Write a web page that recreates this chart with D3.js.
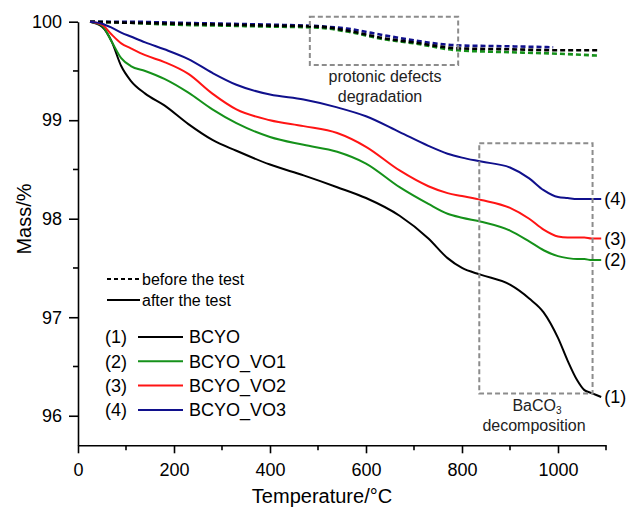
<!DOCTYPE html>
<html>
<head>
<meta charset="utf-8">
<script src="https://cdn.jsdelivr.net/npm/d3@7"></script>
<style>
  body { margin: 0; background: #fff; }
  svg { display: block; font-family: "Liberation Sans", Arial, Helvetica, sans-serif; }
  .axis path, .axis line { stroke: #000; stroke-width: 1.6; }
  .axis text { font-size: 18px; fill: #000; font-family: "Liberation Sans", Arial, Helvetica, sans-serif; }
</style>
</head>
<body>
<svg id="chart" width="628" height="510"></svg>
<script>
// temperature grid (°C) for the "after the test" curves
var temps = [25, 50, 70, 90, 110, 140, 180, 230, 280, 330, 400, 470, 540, 600, 670, 730, 770, 800, 840, 900, 940, 970, 1000, 1020, 1040, 1055, 1070, 1090]

var bcyo = [100, 99.95, 99.80, 99.55, 99.40, 99.27, 99.15, 98.96, 98.80, 98.69, 98.55, 98.44, 98.32, 98.21, 98.03, 97.80, 97.60, 97.50, 97.43, 97.33, 97.19, 97.05, 96.79, 96.56, 96.36, 96.26, 96.23, 96.19]
var bcyoVO1 = [100, 99.96, 99.80, 99.63, 99.55, 99.50, 99.42, 99.28, 99.11, 98.97, 98.83, 98.75, 98.68, 98.56, 98.32, 98.15, 98.05, 98.01, 97.97, 97.88, 97.77, 97.68, 97.62, 97.60, 97.59, 97.59, 97.58, 97.58]
var bcyoVO2 = [100, 99.97, 99.87, 99.78, 99.73, 99.66, 99.59, 99.47, 99.27, 99.11, 99.00, 98.94, 98.87, 98.73, 98.49, 98.33, 98.26, 98.23, 98.19, 98.11, 98.00, 97.89, 97.82, 97.81, 97.81, 97.81, 97.80, 97.80]
var bcyoVO3 = [100, 99.98, 99.94, 99.89, 99.85, 99.79, 99.72, 99.62, 99.48, 99.36, 99.26, 99.21, 99.13, 99.04, 98.88, 98.74, 98.66, 98.62, 98.58, 98.52, 98.41, 98.29, 98.22, 98.21, 98.20, 98.20, 98.20, 98.20]

// "before the test" curves (dashed)
var tempsBefore = [25, 100, 200, 300, 400, 500, 560, 640, 700, 790, 900, 1000, 1085]
var bcyoBefore = [100, 99.99, 99.98, 99.97, 99.96, 99.95, 99.91, 99.83, 99.79, 99.73, 99.72, 99.71, 99.71]
var vo1Before = [100, 99.99, 99.97, 99.96, 99.95, 99.94, 99.90, 99.82, 99.78, 99.71, 99.69, 99.675, 99.655]
var tempsBeforeVO3 = [25, 100, 200, 300, 400, 500, 560, 640, 700, 790, 900, 990]
var vo3Before = [100, 100, 99.99, 99.98, 99.97, 99.955, 99.93, 99.86, 99.81, 99.76, 99.75, 99.74]

var names = ['BCYO', 'BCYO_VO1', 'BCYO_VO2', 'BCYO_VO3']
var tags = ['(1)', '(2)', '(3)', '(4)']
var colors = ['#000000', '#15911a', '#ff1414', '#10108c']

var xTicks = [0, 200, 400, 600, 800, 1000]
var yTicks = [96, 97, 98, 99, 100]

var svg = d3.select('#chart')
var x = d3.scaleLinear().domain([0, 1100]).range([78, 606])
var y = d3.scaleLinear().domain([95.7, 100]).range([445.3, 21.7])

// axes
var xAxis = svg.append('g').attr('class', 'axis').attr('transform', 'translate(0,445.3)')
xAxis.call(d3.axisBottom(x).tickValues(xTicks).tickFormat(d3.format('d'))
  .tickSize(8).tickPadding(6).tickSizeOuter(0))
xAxis.attr('font-family', null).attr('font-size', null)
xAxis.selectAll('.tick text').attr('dy', '0.95em')
xAxis.selectAll('.minor').data(d3.range(100, 1101, 200)).enter().append('line')
  .attr('x1', function (d) { return x(d) }).attr('x2', function (d) { return x(d) })
  .attr('y1', 0).attr('y2', 5)

var yAxis = svg.append('g').attr('class', 'axis').attr('transform', 'translate(78,0)')
yAxis.call(d3.axisLeft(y).tickValues(yTicks).tickFormat(d3.format('d'))
  .tickSize(9).tickPadding(7).tickSizeOuter(0))
yAxis.attr('font-family', null).attr('font-size', null)
yAxis.selectAll('.minor').data([96.5, 97.5, 98.5, 99.5]).enter().append('line')
  .attr('x1', -5).attr('x2', 0)
  .attr('y1', function (d) { return y(d) }).attr('y2', function (d) { return y(d) })

// axis titles
svg.append('text').attr('x', 322).attr('y', 503).attr('text-anchor', 'middle')
  .style('font-size', '20px').text('Temperature/°C')
svg.append('text').attr('transform', 'translate(31,219) rotate(-90)').attr('text-anchor', 'middle')
  .style('font-size', '20px').text('Mass/%')

var line = d3.line()
  .x(function (d) { return x(d[0]) })
  .y(function (d) { return y(d[1]) })
  .curve(d3.curveMonotoneX)

// dashed "before" curves
var before = [
  { t: tempsBefore, v: vo1Before, c: colors[1] },
  { t: tempsBeforeVO3, v: vo3Before, c: colors[3] },
  { t: tempsBefore, v: bcyoBefore, c: colors[0] }
]
before.forEach(function (s) {
  svg.append('path')
    .attr('d', line(d3.zip(s.t, s.v)))
    .attr('fill', 'none').attr('stroke', s.c).attr('stroke-width', 2.6)
    .attr('stroke-dasharray', '5,3')
})

// solid "after" curves
var after = [bcyo, bcyoVO1, bcyoVO2, bcyoVO3]
after.forEach(function (vals, i) {
  svg.append('path')
    .attr('d', line(d3.zip(temps, vals)))
    .attr('fill', 'none').attr('stroke', colors[i]).attr('stroke-width', 2)
})

// end tags
after.forEach(function (vals, i) {
  var last = vals[vals.length - 1]
  svg.append('text').attr('x', x(temps[temps.length - 1]) + 3).attr('y', y(last))
    .attr('dy', '0.35em').style('font-size', '18px').text(tags[i])
})

// annotation boxes
function box (t0, t1, v0, v1) {
  svg.append('rect')
    .attr('x', x(t0)).attr('y', y(v1))
    .attr('width', x(t1) - x(t0)).attr('height', y(v0) - y(v1))
    .attr('fill', 'none').attr('stroke', '#8c8c8c').attr('stroke-width', 2)
    .attr('stroke-dasharray', '5,3')
}
box(483, 792, 99.56, 100.05)
box(836, 1072, 96.225, 98.765)

var note = svg.append('g').style('font-size', '16px').attr('fill', '#222').attr('text-anchor', 'middle')
note.append('text').attr('x', 385).attr('y', 82).text('protonic defects')
note.append('text').attr('x', 380).attr('y', 102).text('degradation')
var ba = note.append('text').attr('x', 537).attr('y', 411)
ba.append('tspan').text('BaCO')
ba.append('tspan').attr('dy', 3).style('font-size', '10px').text('3')
note.append('text').attr('x', 534).attr('y', 431).text('decomposition')

// legend
var leg = svg.append('g').style('font-size', '16px')
leg.append('line').attr('x1', 107).attr('x2', 140).attr('y1', 279).attr('y2', 279)
  .attr('stroke', '#000').attr('stroke-width', 2).attr('stroke-dasharray', '4,3')
leg.append('text').attr('x', 142).attr('y', 279).attr('dy', '0.35em').text('before the test')
leg.append('line').attr('x1', 107).attr('x2', 140).attr('y1', 300).attr('y2', 300)
  .attr('stroke', '#000').attr('stroke-width', 2)
leg.append('text').attr('x', 142).attr('y', 300).attr('dy', '0.35em').text('after the test')

var rows = svg.append('g').selectAll('g').data(names).enter().append('g')
  .attr('transform', function (d, i) { return 'translate(0,' + (337 + i * 24.3) + ')' })
rows.append('text').attr('x', 105).attr('dy', '0.35em').style('font-size', '18px')
  .text(function (d, i) { return tags[i] })
rows.append('line').attr('x1', 138).attr('x2', 183)
  .attr('stroke', function (d, i) { return colors[i] }).attr('stroke-width', 2)
rows.append('text').attr('x', 189).attr('dy', '0.35em').style('font-size', '18px')
  .text(function (d) { return d })
</script>
</body>
</html>
